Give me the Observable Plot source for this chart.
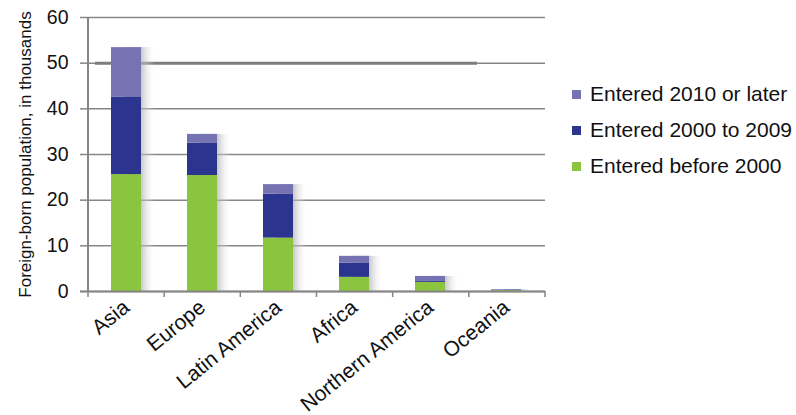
<!DOCTYPE html>
<html>
<head>
<meta charset="utf-8">
<script src="https://cdn.jsdelivr.net/npm/d3@7"></script>
<script src="https://cdn.jsdelivr.net/npm/@observablehq/plot@0.6"></script>
<style>
  html, body { margin: 0; padding: 0; background: #fff; }
  body { font-family: "Liberation Sans", Arial, sans-serif; }
  #wrap { position: relative; width: 796px; height: 415px; }
  #chart { position: absolute; left: 0; top: 0; }
  .legend { position: absolute; left: 572px; top: 76px; color: #111; font-size: 21px; }
  .legend .row { display: flex; align-items: center; height: 36px; }
  .legend .sw { width: 9px; height: 9px; margin-right: 9px; flex: none; }
</style>
</head>
<body>
<div id="wrap">
  <div id="chart"></div>
  <div class="legend" id="legend"></div>
</div>
<script>
// Foreign-born population by region of birth and period of entry (thousands)
const regions = ["Asia", "Europe", "Latin America", "Africa", "Northern America", "Oceania"];
const seriesNames = ["Entered before 2000", "Entered 2000 to 2009", "Entered 2010 or later"];
const seriesColors = ["#8bc43f", "#2b3590", "#7673b2"];
const enteredBefore2000 = [25.6, 25.4, 11.7, 3.1, 2.0, 0.2];
const entered2000to2009 = [17.0, 7.1, 9.6, 3.1, 0.2, 0.1];
const entered2010orLater = [10.8, 1.9, 2.1, 1.5, 1.1, 0.1];
const yTicks = [0, 10, 20, 30, 40, 50, 60];
const yTitle = "Foreign-born population, in thousands";

// long-format rows for the stacked bars (bottom segment first)
const seriesValues = [enteredBefore2000, entered2000to2009, entered2010orLater];
const rows = [];
seriesNames.forEach((s, si) => {
  regions.forEach((r, ri) => rows.push({ region: r, series: s, value: seriesValues[si][ri] }));
});
const totals = regions.map((r, i) => ({
  region: r,
  total: enteredBefore2000[i] + entered2000to2009[i] + entered2010orLater[i]
}));

// category boundary ticks and the left axis line, placed from the chart's own dimensions
function categoryFrame(index, scales, values, dims) {
  const left = dims.marginLeft, right = dims.width - dims.marginRight;
  const bottom = dims.height - dims.marginBottom;
  const band = d3.scaleBand(regions, [left, right]);
  const edges = regions.map(r => band(r)).concat([right]);
  const g = d3.create("svg:g").attr("stroke", "#868686").attr("fill", "none");
  g.append("line")
    .attr("x1", left).attr("x2", left)
    .attr("y1", dims.marginTop).attr("y2", bottom)
    .attr("stroke-width", 2);
  g.selectAll("line.edge").data(edges).join("line")
    .attr("class", "edge")
    .attr("x1", d => d).attr("x2", d => d)
    .attr("y1", bottom).attr("y2", bottom + 6)
    .attr("stroke-width", 1.5);
  return g.node();
}

const chart = Plot.plot({
  width: 560,
  height: 415,
  marginTop: 17,
  marginLeft: 88,
  marginRight: 15,
  marginBottom: 124,
  style: { fontFamily: "'Liberation Sans', Arial, sans-serif", color: "#111", background: "transparent" },
  x: { domain: regions, paddingInner: 0.6, paddingOuter: 0.3, label: null },
  y: { domain: [0, 60], label: null },
  color: { domain: seriesNames, range: seriesColors },
  marks: [
    Plot.gridY(yTicks, { stroke: "#868686", strokeOpacity: 1, strokeWidth: 1.5 }),
    Plot.ruleY([50], { stroke: "#7d7d7d", strokeWidth: 3, insetLeft: 7, insetRight: 68 }),
    // soft shadow falling to the right of each bar
    Plot.barY(totals, { x: "region", y: "total", fill: "url(#barShade)", dx: 14 }),
    Plot.barY(rows, Plot.stackY({ x: "region", y: "value", fill: "series", order: seriesNames })),
    Plot.ruleY([0], { stroke: "#868686", strokeWidth: 2, insetLeft: -8 }),
    categoryFrame,
    Plot.axisY(yTicks, {
      tickSize: 8, tickPadding: 12, fontSize: 19.5, stroke: "#868686", strokeWidth: 1.5,
      label: yTitle, labelAnchor: "center", labelOffset: 70, labelArrow: "none"
    }),
    Plot.axisX({ tickSize: 0, tickRotate: -39, tickPadding: 13, fontSize: 21, label: null })
  ]
});

// gradient used by the shadow bars
const defs = d3.select(chart).insert("defs", ":first-child");
const grad = defs.append("linearGradient").attr("id", "barShade")
  .attr("x1", 0).attr("x2", 1).attr("y1", 0).attr("y2", 0);
grad.append("stop").attr("offset", 0.5).attr("stop-color", "#a9a9b2").attr("stop-opacity", 0.75);
grad.append("stop").attr("offset", 1).attr("stop-color", "#ffffff").attr("stop-opacity", 0);

// y title is set a little smaller than the tick labels
d3.select(chart).selectAll("[aria-label='y-axis label'] text, g[aria-label='y-axis label']")
  .attr("font-size", 17);

document.getElementById("chart").appendChild(chart);

// legend, top entry is the top segment
const legend = d3.select("#legend");
seriesNames.slice().reverse().forEach(s => {
  const row = legend.append("div").attr("class", "row");
  row.append("div").attr("class", "sw").style("background", seriesColors[seriesNames.indexOf(s)]);
  row.append("span").text(s);
});
</script>
</body>
</html>
